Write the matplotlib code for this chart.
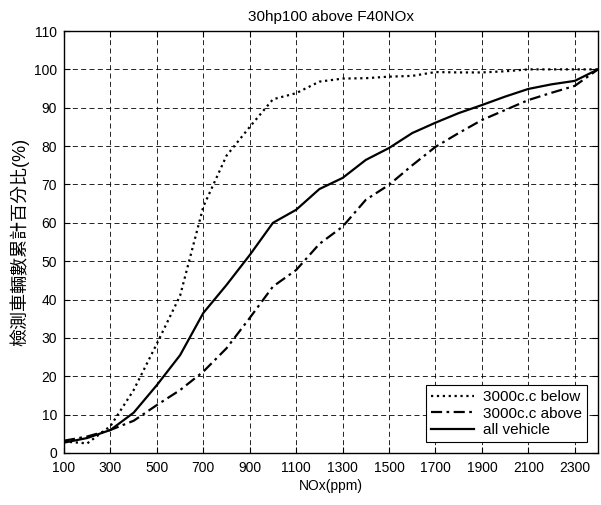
import matplotlib.pyplot as plt
import matplotlib

matplotlib.rcParams['font.family'] = ['Liberation Sans', 'Noto Sans CJK TC', 'DejaVu Sans']

# NOx (ppm) 累計分佈資料
nox = [100, 200, 300, 400, 500, 600, 700, 800, 900, 1000, 1100, 1200,
       1300, 1400, 1500, 1600, 1700, 1800, 1900, 2000, 2100, 2200, 2300, 2400]
below_3000 = [3.0, 2.5, 7.0, 16.4, 28.5, 41.0, 64.2, 77.5, 85.0, 92.2, 93.8, 96.8,
              97.6, 97.7, 98.1, 98.3, 99.3, 99.2, 99.2, 99.5, 100, 100, 100, 100]
above_3000 = [3.2, 4.3, 6.0, 8.4, 12.5, 16.4, 21.2, 27.3, 35.2, 43.4, 47.7, 54.5,
              59.0, 66.0, 69.9, 75.0, 79.8, 83.4, 86.8, 89.4, 92.0, 93.9, 95.7, 100]
all_vehicle = [2.7, 3.9, 6.0, 10.5, 17.7, 25.5, 36.5, 43.8, 51.6, 60.0, 63.4, 68.8,
               71.7, 76.4, 79.5, 83.4, 86.1, 88.6, 90.7, 92.9, 94.9, 96.1, 97.0, 100]
xticks = list(range(100, 2400, 200))
yticks = list(range(0, 111, 10))

fig = plt.figure(figsize=(6.01, 5.05), dpi=100)
ax = fig.add_axes([0.1065, 0.103, 0.8885, 0.8356])

ax.plot(nox, below_3000, color='black', linestyle=':', linewidth=1.6, label='3000c.c below')
ax.plot(nox, above_3000, color='black', linestyle=(0, (5, 2, 1.2, 2)), linewidth=1.6, label='3000c.c above')
ax.plot(nox, all_vehicle, color='black', linestyle='-', linewidth=1.6, label='all vehicle')

ax.set_xlim(100, 2400)
ax.set_ylim(0, 110)
ax.set_xticks(xticks)
ax.set_yticks(yticks)
ax.tick_params(direction='in', length=4, labelsize=10, top=True, right=True, color='black')
ax.tick_params(axis='x', pad=6)
ax.tick_params(axis='y', pad=5)
ax.grid(True, color='black', linestyle=(0, (6, 4)), linewidth=0.6)
for s in ax.spines.values():
    s.set_linewidth(1.0)

ax.set_title('30hp100 above F40NOx', fontsize=11, pad=7)
ax.set_xlabel('NOx(ppm)', fontsize=10, labelpad=3)
ax.set_ylabel('檢測車輛數累計百分比(%)', fontsize=13, labelpad=3, fontweight='light')

leg = ax.legend(loc='lower right', fontsize=11, fancybox=False, framealpha=1,
                edgecolor='black', handlelength=2.8, handletextpad=0.6, borderpad=0.35,
                labelspacing=0.15, borderaxespad=0.7)
leg.get_frame().set_linewidth(0.8)

plt.savefig('out.png', dpi=100)
